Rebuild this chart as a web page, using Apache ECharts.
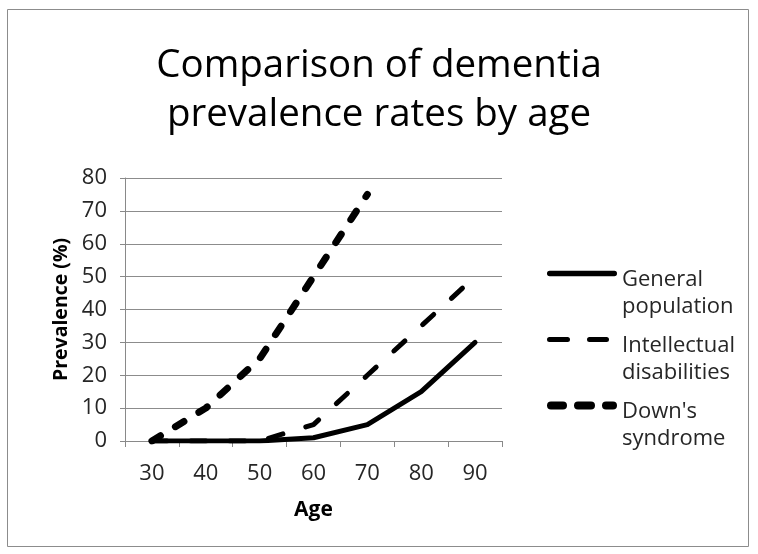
<!DOCTYPE html>
<html><head><meta charset="utf-8">
<script src="https://cdn.jsdelivr.net/npm/echarts@6/dist/echarts.min.js"></script>
<style>html,body{margin:0;padding:0;background:#fff}#c{width:758px;height:554px}</style>
</head><body><div id="c"></div>
<script>
var ages = ['30','40','50','60','70','80','90'];
var generalPop = [0, 0, 0, 1, 5, 15, 30];
var intellectual = [0, 0, 0, 5, 20, 35, 50];
var downs = [0, 10, 25, 50, 75, null, null];
var seriesNames = ['General population', 'Intellectual disabilities', "Down's syndrome"];
var legendLabels = {'General population':'General\npopulation','Intellectual disabilities':'Intellectual\ndisabilities',"Down's syndrome":"Down's\nsyndrome"};
var FONT = 'Open Sans';

// legend icon builder: rounded segments on a 70 x 54 box, centred at y = 7.5
var IW = 70, IH = 54, CY = 7.5;
function seg(x1, x2, th) {
  var r = th / 2, t = CY - r, b = CY + r;
  return 'M' + (x1 + r) + ',' + t + 'H' + (x2 - r) + 'A' + r + ',' + r + ' 0 0 1 ' + (x2 - r) + ',' + b +
         'H' + (x1 + r) + 'A' + r + ',' + r + ' 0 0 1 ' + (x1 + r) + ',' + t + 'Z ';
}
var boxPad = 'M0,0H0.05V0.05H0Z M' + (IW - 0.05) + ',' + (IH - 0.05) + 'H' + IW + 'V' + IH + 'H' + (IW - 0.05) + 'Z';
var iconSolid = 'path://' + seg(0, 70, 5.3) + boxPad;
var iconDash = 'path://' + seg(0, 23, 5) + seg(40, 62, 5) + boxPad;
var iconDot = 'path://' + seg(0, 20, 8) + seg(27, 48, 8) + seg(55, 70, 8) + boxPad;

var chart = echarts.init(document.getElementById('c'), null, {renderer:'canvas'});
chart.setOption({
  animation:false,
  textStyle:{fontFamily:FONT},
  graphic:[{type:'rect', shape:{x:7.5,y:9.5,width:741,height:537}, style:{fill:'none', stroke:'#8c8c8c', lineWidth:1}, silent:true}],
  title:{text:'Comparison of dementia\nprevalence rates by age', left:'center', top:42, padding:0,
    textStyle:{fontFamily:FONT, fontSize:38.5, fontWeight:'normal', color:'#000', lineHeight:49}},
  grid:{left:125, right:256, top:178, bottom:113},
  legend:{orient:'vertical', left:547, top:266, padding:0, itemWidth:IW, itemHeight:IH, itemGap:12,
    data:[{name:seriesNames[0], icon:iconSolid},{name:seriesNames[1], icon:iconDash},{name:seriesNames[2], icon:iconDot}],
    formatter:function(n){return legendLabels[n];},
    textStyle:{fontFamily:FONT, fontSize:22, color:'#262626', lineHeight:27}},
  xAxis:{type:'category', data:ages, boundaryGap:true, name:'Age', nameLocation:'middle', nameGap:59,
    nameTextStyle:{fontFamily:FONT, fontSize:21, fontWeight:'bold', color:'#000'},
    axisLine:{lineStyle:{color:'#898989', width:1}}, axisTick:{show:true, length:6, lineStyle:{color:'#898989'}},
    axisLabel:{fontFamily:FONT, fontSize:22, color:'#262626', margin:22}},
  yAxis:{type:'value', min:0, max:80, interval:10, name:'Prevalence (%)', nameLocation:'middle', nameGap:54, nameRotate:90,
    nameTextStyle:{fontFamily:FONT, fontSize:19.5, fontWeight:'bold', color:'#000'},
    axisLine:{show:true, lineStyle:{color:'#898989', width:1}}, axisTick:{show:true, length:5, lineStyle:{color:'#898989'}},
    splitLine:{lineStyle:{color:'#8c8c8c', width:1}},
    axisLabel:{fontFamily:FONT, fontSize:22, color:'#262626', margin:18}},
  series:[
    {name:seriesNames[0], type:'line', data:generalPop, showSymbol:false, symbol:'none', z:5,
      lineStyle:{color:'#000', width:5, type:'solid', cap:'round', join:'round'}, itemStyle:{color:'#000'}},
    {name:seriesNames[1], type:'line', data:intellectual, showSymbol:false, symbol:'none', z:4,
      lineStyle:{color:'#000', width:5, type:[15,24], cap:'round', join:'round'}, itemStyle:{color:'#000'}},
    {name:seriesNames[2], type:'line', data:downs, showSymbol:false, symbol:'none', z:3,
      lineStyle:{color:'#000', width:7, type:[10,17.5], cap:'round', join:'round'}, itemStyle:{color:'#000'}}
  ]
});
</script></body></html>
